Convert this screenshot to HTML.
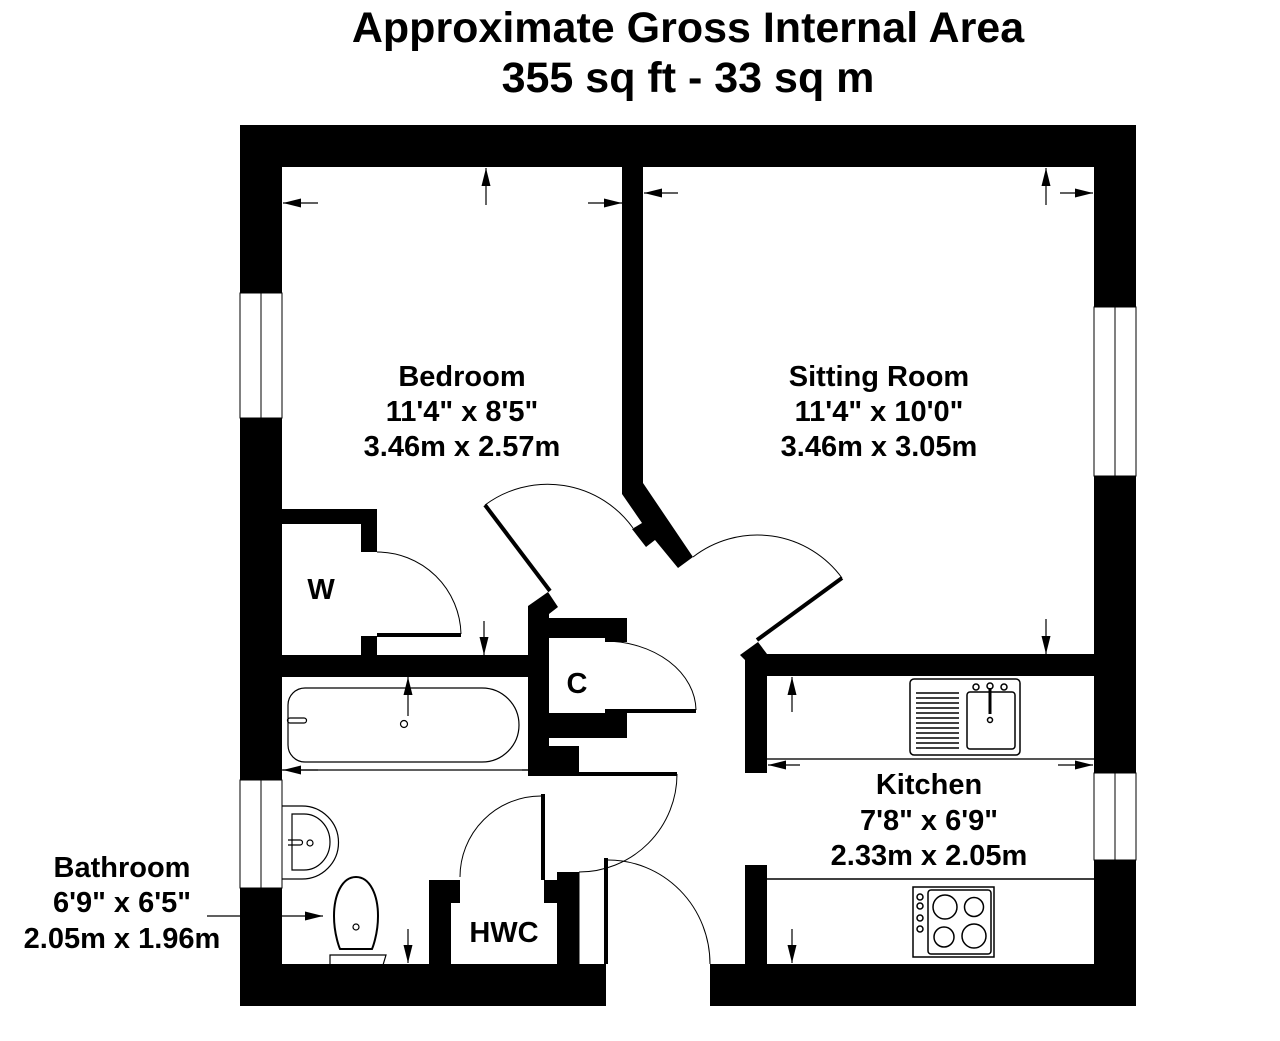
<!DOCTYPE html>
<html><head><meta charset="utf-8"><style>
html,body{margin:0;padding:0;background:#fff;}
svg{display:block;}
text{font-family:"Liberation Sans",Arial,sans-serif;font-weight:bold;fill:#000;}
</style></head><body>
<svg width="1280" height="1041" viewBox="0 0 1280 1041" xmlns="http://www.w3.org/2000/svg">
<defs>
<marker id="ah" viewBox="0 0 18 10" refX="18" refY="5" markerWidth="18" markerHeight="10" markerUnits="userSpaceOnUse" orient="auto"><path d="M0,0.5 L18,5 L0,9.5 z" fill="#000"/></marker>
</defs>
<text x="688" y="42" font-size="43" text-anchor="middle">Approximate Gross Internal Area</text>
<text x="688" y="92" font-size="43" text-anchor="middle">355 sq ft - 33 sq m</text>

<rect x="240" y="125" width="896" height="42" fill="#000"/>
<rect x="240" y="125" width="42" height="881" fill="#000"/>
<rect x="1094" y="125" width="42" height="881" fill="#000"/>
<rect x="240" y="964" width="366" height="42" fill="#000"/>
<rect x="710" y="964" width="426" height="42" fill="#000"/>
<g fill="#fff" stroke="#000" stroke-width="1">
<rect x="240" y="293" width="42" height="125"/>
<line x1="261" y1="293" x2="261" y2="418"/>
<rect x="240" y="780" width="42" height="108"/>
<line x1="261" y1="780" x2="261" y2="888"/>
<rect x="1094" y="307" width="42" height="169"/>
<line x1="1115" y1="307" x2="1115" y2="476"/>
<rect x="1094" y="773" width="42" height="87"/>
<line x1="1115" y1="773" x2="1115" y2="860"/>
</g>

<polygon points="622,167 643,167 643,483 693,557 678,568 655,540 646,547 632,529 642,523 622,494" fill="#000"/>
<rect x="282" y="509" width="95" height="15" fill="#000"/>
<rect x="361" y="509" width="16" height="43" fill="#000"/>
<rect x="361" y="636" width="16" height="22" fill="#000"/>
<rect x="377" y="633" width="84" height="4" fill="#000"/>
<path d="M377,552 A84,84 0 0 1 461,634" fill="none" stroke="#000" stroke-width="1"/>
<rect x="282" y="655" width="246" height="22" fill="#000"/>
<rect x="528" y="606" width="21" height="170" fill="#000"/>
<polygon points="528,606 548,592 558,607 549,614 549,620 528,620" fill="#000"/>
<line x1="485" y1="505" x2="550" y2="591" stroke="#000" stroke-width="4"/>
<path d="M485,505 A105,105 0 0 1 633,528" fill="none" stroke="#000" stroke-width="1"/>
<rect x="549" y="618" width="78" height="20" fill="#000"/>
<rect x="605" y="618" width="22" height="24" fill="#000"/>
<rect x="549" y="713" width="78" height="25" fill="#000"/>
<rect x="605" y="709" width="91" height="4" fill="#000"/>
<path d="M605,641 A92,70 0 0 1 696,710" fill="none" stroke="#000" stroke-width="1"/>
<rect x="549" y="746" width="30" height="30" fill="#000"/>
<rect x="579" y="772" width="98" height="4" fill="#000"/>
<path d="M677,774 A98,98 0 0 1 579,872" fill="none" stroke="#000" stroke-width="1"/>
<rect x="429" y="880" width="22" height="84" fill="#000"/>
<rect x="451" y="880" width="9" height="23" fill="#000"/>
<rect x="557" y="872" width="22" height="92" fill="#000"/>
<rect x="544" y="880" width="13" height="23" fill="#000"/>
<rect x="541" y="794" width="4" height="86" fill="#000"/>
<path d="M541,796 A81,81 0 0 0 460,877" fill="none" stroke="#000" stroke-width="1"/>
<line x1="579" y1="872" x2="579" y2="964" stroke="#000" stroke-width="1"/>
<rect x="604" y="858" width="4" height="106" fill="#000"/>
<path d="M608,860 A102,104 0 0 1 710,964" fill="none" stroke="#000" stroke-width="1"/>

<rect x="745" y="654" width="22" height="119" fill="#000"/>
<polygon points="740,655 758,642 767,654 745,660" fill="#000"/>
<rect x="767" y="654" width="327" height="22" fill="#000"/>
<rect x="745" y="865" width="22" height="100" fill="#000"/>
<line x1="757" y1="640" x2="842" y2="578" stroke="#000" stroke-width="4"/>
<path d="M693,557 A105,105 0 0 1 842,578" fill="none" stroke="#000" stroke-width="1"/>

<line x1="767" y1="759" x2="1094" y2="759" stroke="#555" stroke-width="2"/>
<line x1="767" y1="879" x2="1094" y2="879" stroke="#000" stroke-width="1.5"/>
<g fill="none" stroke="#000" stroke-width="1.5">
<rect x="910" y="679" width="110" height="76" rx="4"/>
<rect x="967" y="692" width="48" height="57" rx="3"/>
<line x1="990" y1="688" x2="990" y2="714" stroke-width="3"/>
<circle cx="990" cy="720" r="2.5"/>
<circle cx="990" cy="686" r="3"/>
<circle cx="976" cy="687" r="3"/><circle cx="1004" cy="687" r="3"/>
<rect x="913" y="887" width="81" height="70"/>
<rect x="928" y="890" width="63" height="64" rx="3"/>
<circle cx="945" cy="907" r="12"/><circle cx="974" cy="907" r="9.5"/>
<circle cx="944" cy="937" r="10"/><circle cx="974" cy="936" r="12"/>
<circle cx="920" cy="897" r="3"/><circle cx="920" cy="906" r="3"/><circle cx="920" cy="918" r="3"/><circle cx="920" cy="929" r="3"/>
</g>
<g stroke="#000" stroke-width="1.5">
<line x1="916" y1="693" x2="959" y2="693"/><line x1="916" y1="698" x2="959" y2="698"/><line x1="916" y1="703" x2="959" y2="703"/><line x1="916" y1="708" x2="959" y2="708"/><line x1="916" y1="713" x2="959" y2="713"/><line x1="916" y1="718" x2="959" y2="718"/><line x1="916" y1="723" x2="959" y2="723"/><line x1="916" y1="728" x2="959" y2="728"/><line x1="916" y1="733" x2="959" y2="733"/><line x1="916" y1="738" x2="959" y2="738"/><line x1="916" y1="743" x2="959" y2="743"/><line x1="916" y1="748" x2="959" y2="748"/>
</g>

<g fill="none" stroke="#000" stroke-width="1.2">
<path d="M305,688 H482 A37,37 0 0 1 482,762 H305 A17,17 0 0 1 288,745 V705 A17,17 0 0 1 305,688 Z"/>
<circle cx="404" cy="724" r="3.5"/>
<path d="M290,718 h14 a2.5,2.5 0 0 1 0,5 h-14 a2.5,2.5 0 0 1 0,-5z"/>
<line x1="282" y1="770" x2="557" y2="770"/>
<path d="M282,806 h20 a36,36 0 0 1 0,73 h-20"/>
<path d="M292,814 h12 a26,28 0 0 1 0,56 h-12z"/>
<circle cx="310" cy="843" r="3"/>
<path d="M288,840 h12 a2.5,2.5 0 0 1 0,5 h-12"/>
<path d="M356,877 C342,877 334,895 334,916 C334,935 340,949 340,949 H372 C372,949 378,935 378,916 C378,895 370,877 356,877Z" stroke-width="2"/>
<circle cx="356" cy="927" r="3"/>
<path d="M330,955 H386 L383,965 H330Z"/>
</g>

<g stroke="#000" stroke-width="1.2" fill="none" marker-end="url(#ah)">
<line x1="318" y1="203" x2="283" y2="203"/>
<line x1="588" y1="203" x2="622" y2="203"/>
<line x1="486" y1="205" x2="486" y2="168"/>
<line x1="678" y1="193" x2="644" y2="193"/>
<line x1="1046" y1="205" x2="1046" y2="168"/>
<line x1="1060" y1="193" x2="1093" y2="193"/>
<line x1="1046" y1="619" x2="1046" y2="654"/>
<line x1="484" y1="621" x2="484" y2="655"/>
<line x1="408" y1="716" x2="408" y2="677"/>
<line x1="318" y1="770" x2="283" y2="770"/>
<line x1="522" y1="770" x2="557" y2="770"/>
<line x1="408" y1="929" x2="408" y2="963"/>
<line x1="282" y1="916" x2="323" y2="916"/>
<line x1="792" y1="712" x2="792" y2="677"/>
<line x1="792" y1="929" x2="792" y2="963"/>
<line x1="800" y1="765" x2="768" y2="765"/>
<line x1="1058" y1="765" x2="1093" y2="765"/>
</g>
<line x1="207" y1="916" x2="282" y2="916" stroke="#000" stroke-width="1.2"/>

<g font-size="29" text-anchor="middle">
<text x="462" y="386">Bedroom</text>
<text x="462" y="421">11'4" x 8'5"</text>
<text x="462" y="456">3.46m x 2.57m</text>
<text x="879" y="386">Sitting Room</text>
<text x="879" y="421">11'4" x 10'0"</text>
<text x="879" y="456">3.46m x 3.05m</text>
<text x="929" y="794">Kitchen</text>
<text x="929" y="830">7'8" x 6'9"</text>
<text x="929" y="865">2.33m x 2.05m</text>
<text x="122" y="877">Bathroom</text>
<text x="122" y="912">6'9" x 6'5"</text>
<text x="122" y="948">2.05m x 1.96m</text>
<text x="321" y="599">W</text>
<text x="577" y="693">C</text>
<text x="504" y="942">HWC</text>
</g>
</svg>
</body></html>
